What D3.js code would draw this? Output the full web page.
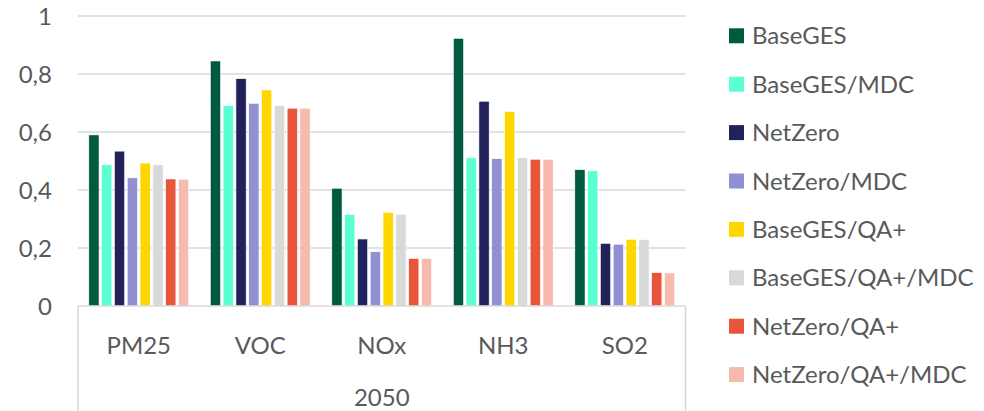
<!DOCTYPE html>
<html>
<head>
<meta charset="utf-8">
<script src="https://cdn.jsdelivr.net/npm/d3@7"></script>
<style>
  body { margin: 0; background: #fff; }
  text { font-family: Lato, "Open Sans", sans-serif; fill: #595959; }
</style>
</head>
<body>
<svg id="chart" width="984" height="411"></svg>
<script>
const categories = ["PM25", "VOC", "NOx", "NH3", "SO2"];
const groupLabel = "2050";
const seriesNames = ["BaseGES", "BaseGES/MDC", "NetZero", "NetZero/MDC", "BaseGES/QA+", "BaseGES/QA+/MDC", "NetZero/QA+", "NetZero/QA+/MDC"];
const seriesColors = ["#005A3F", "#5AFFD2", "#22215A", "#9090D2", "#FFD700", "#D9D9D9", "#E9553A", "#F7BAAE"];
const BaseGES        = [0.590, 0.845, 0.406, 0.923, 0.470];
const BaseGES_MDC    = [0.487, 0.691, 0.316, 0.511, 0.466];
const NetZero        = [0.534, 0.784, 0.231, 0.706, 0.216];
const NetZero_MDC    = [0.442, 0.699, 0.187, 0.508, 0.213];
const BaseGES_QA     = [0.493, 0.745, 0.323, 0.671, 0.230];
const BaseGES_QA_MDC = [0.487, 0.691, 0.316, 0.511, 0.229];
const NetZero_QA     = [0.438, 0.682, 0.164, 0.506, 0.115];
const NetZero_QA_MDC = [0.437, 0.682, 0.164, 0.506, 0.114];
const yTicks = [0, 0.2, 0.4, 0.6, 0.8, 1];

const seriesValues = [BaseGES, BaseGES_MDC, NetZero, NetZero_MDC, BaseGES_QA, BaseGES_QA_MDC, NetZero_QA, NetZero_QA_MDC];

const svg = d3.select("#chart");
const pLeft = 78, pRight = 685.5, pTop = 16, pBottom = 306;

const x0 = d3.scaleBand().domain(categories).range([pLeft, pRight]).paddingInner(0.178).paddingOuter(0.089);
const x1 = d3.scaleBand().domain(seriesNames).range([0, x0.bandwidth()]).paddingInner(0.2);
const y = d3.scaleLinear().domain([0, 1]).range([pBottom, pTop]);

// gridlines
svg.append("g").selectAll("line").data(yTicks.filter(d => d > 0)).join("line")
  .attr("x1", pLeft).attr("x2", pRight)
  .attr("y1", d => y(d)).attr("y2", d => y(d))
  .attr("stroke", "#d9d9d9").attr("stroke-width", 1.5);

// y labels
const fmt = d => d === 0 ? "0" : (d === 1 ? "1" : d3.format(".1f")(d).replace(".", ","));
svg.append("g").selectAll("text").data(yTicks).join("text")
  .attr("x", 52).attr("y", d => y(d)).attr("dy", "0.36em")
  .attr("text-anchor", "end").style("font-size", "24px")
  .text(fmt);

// bars
const g = svg.append("g");
categories.forEach((c, ci) => {
  seriesNames.forEach((s, si) => {
    const v = seriesValues[si][ci];
    g.append("rect")
      .attr("x", x0(c) + x1(s))
      .attr("y", y(v))
      .attr("width", x1.bandwidth())
      .attr("height", y(0) - y(v))
      .attr("fill", seriesColors[si])
      .attr("stroke", "#ffffff").attr("stroke-width", 0.6);
  });
});

// axis lines
svg.append("line").attr("x1", pLeft).attr("x2", pRight).attr("y1", pBottom).attr("y2", pBottom)
  .attr("stroke", "#d9d9d9").attr("stroke-width", 1.5);
svg.append("line").attr("x1", pLeft).attr("x2", pLeft).attr("y1", pBottom).attr("y2", 411)
  .attr("stroke", "#d9d9d9").attr("stroke-width", 1.5);
svg.append("line").attr("x1", pRight).attr("x2", pRight).attr("y1", pBottom).attr("y2", 411)
  .attr("stroke", "#d9d9d9").attr("stroke-width", 1.5);

// category labels
svg.append("g").selectAll("text").data(categories).join("text")
  .attr("x", d => x0(d) + x0.bandwidth() / 2).attr("y", 353.5)
  .attr("text-anchor", "middle").style("font-size", "24px")
  .text(d => d);
svg.append("text").attr("x", (pLeft + pRight) / 2).attr("y", 405.5)
  .attr("text-anchor", "middle").style("font-size", "24px")
  .text(groupLabel);

// legend
const lg = svg.append("g");
seriesNames.forEach((s, i) => {
  const cy = 35.8 + i * 48.4;
  lg.append("rect").attr("x", 729).attr("y", cy - 7.5).attr("width", 15).attr("height", 15)
    .attr("fill", seriesColors[i]);
  lg.append("text").attr("x", 752).attr("y", cy).attr("dy", "0.36em")
    .style("font-size", "24px").text(s);
});
</script>
</body>
</html>
